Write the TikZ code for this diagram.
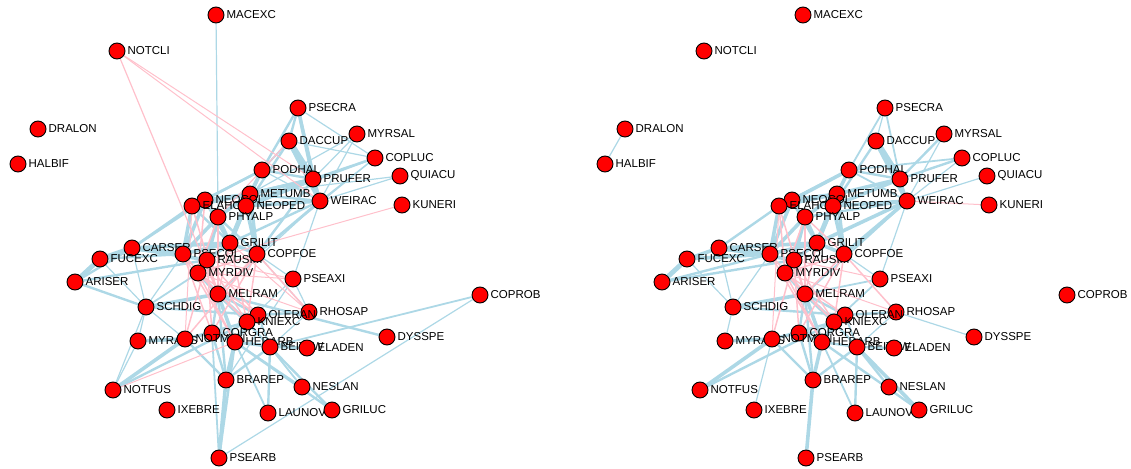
\documentclass[tikz,border=0pt]{standalone}
\usepackage{fontspec}
\setmainfont{Liberation Sans}
\pgfdeclarelayer{bg}
\pgfsetlayers{bg,main}
\definecolor{eblue}{HTML}{ADD8E6}
\definecolor{epink}{HTML}{FFC0CB}
\definecolor{vred}{HTML}{FF0000}
\tikzset{
  vtx/.style={circle,fill=vred,draw=black,line width=0.9pt,minimum size=16pt,inner sep=0pt},
  lbl/.style={font=\fontsize{11.5}{12}\selectfont,inner sep=2pt,text=black},
  bedge/.style={draw=eblue},
  pedge/.style={draw=epink},
}
\begin{document}
\begin{tikzpicture}[x=1pt,y=-1pt]
\useasboundingbox (0,0) rectangle (1131,468);
\foreach \n/\x/\y in {MACEXC/216/15, NOTCLI/117/51, DRALON/38/129, HALBIF/18/164,
  PSECRA/298/108, DACCUP/289/141, MYRSAL/357/134, COPLUC/375/158, QUIACU/400/176,
  PODHAL/262/170, PRUFER/313/179, KUNERI/402/205, WEIRAC/320/201, METUMB/250/194,
  NEOCOL/205/200, ELAHOO/192/206, NEOPED/246/206, PHYALP/218/217, GRILIT/230/243,
  CARSER/132/248, FUCEXC/100/259, ARISER/75/282, PSECOL/183/254, RAUSIM/207/260,
  COPFOE/257/254, MYRDIV/198/273, PSEAXI/293/279, MELRAM/218/294, SCHDIG/146/307,
  RHOSAP/309/312, OLERAN/258/315, KNIEXC/247/322, CORGRA/212/333, MYRAUS/138/341,
  NOTMEN/185/339, HEDARB/235/342, BEITAW/270/347, ELADEN/307/348, DYSSPE/387/337,
  COPROB/480/295, BRAREP/226/380, NOTFUS/113/390, IXEBRE/167/410, NESLAN/302/387,
  LAUNOV/268/413, GRILUC/332/410, PSEARB/219/458}
{
  \node[vtx,label={[lbl]east:\n}] (L\n) at (\x,\y) {};
  \node[vtx,label={[lbl]east:\n}] (R\n) at (\x+587,\y) {};
}
\begin{pgfonlayer}{bg}
% left graph, blue
\foreach \a/\b/\w in {MACEXC/PHYALP/1, PSECRA/DACCUP/2, PSECRA/PRUFER/3, PSECRA/WEIRAC/2,
  PSECRA/PODHAL/2, PSECRA/COPLUC/1, DACCUP/PRUFER/5, DACCUP/WEIRAC/4, DACCUP/COPLUC/1,
  DACCUP/NEOPED/2, DACCUP/PODHAL/1.5, MYRSAL/PRUFER/1, MYRSAL/WEIRAC/1, MYRSAL/METUMB/1,
  COPLUC/PRUFER/2, COPLUC/WEIRAC/1, COPLUC/COPFOE/1, COPLUC/NEOPED/1.5, QUIACU/WEIRAC/1,
  QUIACU/METUMB/1, PODHAL/PRUFER/2, PODHAL/NEOCOL/2, PODHAL/ELAHOO/2, PODHAL/METUMB/3,
  PODHAL/WEIRAC/1, PODHAL/GRILIT/2, PRUFER/METUMB/3, PRUFER/NEOPED/4, PRUFER/ELAHOO/2,
  PRUFER/WEIRAC/2, PRUFER/COPFOE/2, WEIRAC/NEOPED/3, WEIRAC/METUMB/2, WEIRAC/GRILIT/2,
  WEIRAC/COPFOE/2, WEIRAC/MELRAM/1, WEIRAC/PSEAXI/1, METUMB/NEOPED/3, METUMB/NEOCOL/3,
  METUMB/ELAHOO/3, METUMB/PHYALP/3, METUMB/GRILIT/4, METUMB/COPFOE/3, NEOCOL/ELAHOO/2,
  NEOCOL/PHYALP/2, NEOCOL/PSECOL/3, NEOCOL/CARSER/2, NEOCOL/GRILIT/3, NEOPED/GRILIT/3,
  NEOPED/COPFOE/3, ELAHOO/PSECOL/3, ELAHOO/CARSER/2, ELAHOO/GRILIT/2, PHYALP/GRILIT/3,
  PHYALP/PSECOL/3, PHYALP/RAUSIM/3, PHYALP/COPFOE/2, GRILIT/PSECOL/3, GRILIT/RAUSIM/3,
  GRILIT/COPFOE/3, GRILIT/CARSER/3, CARSER/PSECOL/4, CARSER/FUCEXC/4, CARSER/ARISER/2,
  CARSER/SCHDIG/1, CARSER/RAUSIM/3, FUCEXC/ARISER/4, FUCEXC/SCHDIG/1, FUCEXC/PSECOL/2,
  ARISER/SCHDIG/2, ARISER/RAUSIM/2, SCHDIG/MELRAM/3, SCHDIG/PSECOL/1, SCHDIG/NOTFUS/1,
  SCHDIG/MYRAUS/1, SCHDIG/OLERAN/2, SCHDIG/NOTMEN/1, MELRAM/MYRDIV/3, MELRAM/KNIEXC/3,
  MELRAM/OLERAN/2, MELRAM/DYSSPE/2, MELRAM/CORGRA/2, MELRAM/HEDARB/3, MELRAM/BRAREP/2,
  RHOSAP/OLERAN/2, RHOSAP/BEITAW/1, RHOSAP/PSEAXI/1, RHOSAP/COPFOE/1, PSEAXI/COPFOE/1,
  PSEAXI/KNIEXC/1, PSEAXI/BRAREP/1, KNIEXC/HEDARB/2, KNIEXC/BEITAW/2, KNIEXC/NOTMEN/2,
  CORGRA/HEDARB/2, CORGRA/NOTMEN/2, CORGRA/BRAREP/2, CORGRA/PSEARB/1.5, NOTMEN/MYRAUS/3,
  NOTMEN/NOTFUS/3, NOTMEN/BRAREP/2, HEDARB/BRAREP/3, HEDARB/PSEARB/2, HEDARB/LAUNOV/1.5,
  HEDARB/NESLAN/1.5, HEDARB/GRILUC/2, HEDARB/BEITAW/2, BEITAW/ELADEN/2, BEITAW/LAUNOV/2,
  BEITAW/NESLAN/1.5, BEITAW/COPROB/1.5, BEITAW/BRAREP/2, MYRAUS/NOTFUS/1, BRAREP/PSEARB/3,
  COPROB/PSEARB/1, ELADEN/HEDARB/1.5, GRILUC/BEITAW/2, OLERAN/BEITAW/1.5, OLERAN/HEDARB/1.5,
  MYRDIV/SCHDIG/1.5, NOTFUS/KNIEXC/2}
  \draw[bedge,line width=1.2*\w pt] (L\a) -- (L\b);
% left graph, pink
\foreach \a/\b/\w in {NOTCLI/MELRAM/1.2, NOTCLI/WEIRAC/1, NOTCLI/PRUFER/1, KUNERI/RAUSIM/1,
  NOTFUS/HEDARB/1, MELRAM/RAUSIM/2, MELRAM/COPFOE/1.5, MELRAM/PHYALP/2, MYRDIV/COPFOE/1.5,
  MYRDIV/KNIEXC/1.5, MYRDIV/OLERAN/1.5, MYRDIV/HEDARB/1.5, RAUSIM/KNIEXC/1.5, RAUSIM/CORGRA/1.5,
  RAUSIM/OLERAN/1.5, RAUSIM/NOTMEN/1.5, COPFOE/CORGRA/1.5, COPFOE/NOTMEN/1.5, COPFOE/KNIEXC/1.5,
  COPFOE/RHOSAP/1.5, PSECOL/MELRAM/1.5, PSECOL/HEDARB/1.5, PSECOL/CORGRA/1.5, ELAHOO/MELRAM/1.5,
  NEOCOL/MYRDIV/1.5, PHYALP/MYRDIV/1.5, GRILIT/RHOSAP/1, GRILIT/MELRAM/1.5, DACCUP/PHYALP/1,
  PSEAXI/MYRDIV/1, PSEAXI/RAUSIM/1, RHOSAP/MYRDIV/1, ELAHOO/NOTMEN/1, GRILIT/KNIEXC/1.5}
  \draw[pedge,line width=\w pt] (L\a) -- (L\b);
% right graph, blue
\foreach \a/\b/\w in {DRALON/HALBIF/1, PSECRA/PRUFER/1.5, PSECRA/PODHAL/1.5, PSECRA/DACCUP/1,
  DACCUP/PRUFER/5, DACCUP/WEIRAC/4, DACCUP/NEOPED/2, MYRSAL/PRUFER/2, MYRSAL/WEIRAC/1,
  COPLUC/PRUFER/2, COPLUC/PODHAL/1.5, COPLUC/WEIRAC/1, QUIACU/WEIRAC/1, PODHAL/NEOCOL/3,
  PODHAL/METUMB/3, PODHAL/PRUFER/2, PODHAL/ELAHOO/2, PODHAL/WEIRAC/1.5, PRUFER/METUMB/3,
  PRUFER/NEOPED/3, PRUFER/WEIRAC/2, WEIRAC/NEOPED/3, WEIRAC/GRILIT/3, WEIRAC/COPFOE/3,
  WEIRAC/PHYALP/2, WEIRAC/PSEAXI/1, WEIRAC/MELRAM/1.5, METUMB/NEOPED/3, METUMB/NEOCOL/3,
  METUMB/ELAHOO/3, METUMB/PHYALP/3, METUMB/GRILIT/4, METUMB/COPFOE/3, NEOCOL/ELAHOO/2,
  NEOCOL/PSECOL/3, NEOCOL/GRILIT/3, NEOPED/GRILIT/3, NEOPED/COPFOE/3, ELAHOO/PSECOL/3,
  ELAHOO/CARSER/2, PHYALP/GRILIT/3, PHYALP/PSECOL/3, PHYALP/RAUSIM/3, GRILIT/PSECOL/3,
  GRILIT/RAUSIM/3, GRILIT/COPFOE/3, GRILIT/CARSER/3, CARSER/PSECOL/4, CARSER/FUCEXC/3,
  CARSER/SCHDIG/1, CARSER/RAUSIM/3, FUCEXC/ARISER/4, FUCEXC/SCHDIG/1, FUCEXC/PSECOL/3,
  ARISER/RAUSIM/2, SCHDIG/MELRAM/3, SCHDIG/PSECOL/1, SCHDIG/OLERAN/2, MELRAM/MYRDIV/3,
  MELRAM/KNIEXC/3, MELRAM/OLERAN/2, MELRAM/CORGRA/2, MELRAM/HEDARB/3, MELRAM/BRAREP/2,
  MELRAM/PSEAXI/1.5, RHOSAP/OLERAN/2, RHOSAP/DYSSPE/1, RHOSAP/BEITAW/1, PSEAXI/COPFOE/1,
  PSEAXI/KNIEXC/1.5, KNIEXC/HEDARB/2, KNIEXC/BEITAW/2, KNIEXC/NOTMEN/2, CORGRA/HEDARB/2,
  CORGRA/NOTMEN/2, CORGRA/BRAREP/2, NOTMEN/MYRAUS/3, NOTMEN/NOTFUS/3, NOTMEN/BRAREP/2,
  NOTMEN/IXEBRE/1, HEDARB/BRAREP/3, HEDARB/LAUNOV/1.5, HEDARB/GRILUC/2, HEDARB/BEITAW/2,
  BEITAW/ELADEN/2, BEITAW/LAUNOV/2, BEITAW/NESLAN/2, BEITAW/GRILUC/3, BEITAW/BRAREP/2,
  BRAREP/PSEARB/3, OLERAN/BEITAW/1.5, OLERAN/HEDARB/1.5, MYRAUS/SCHDIG/1, NOTFUS/KNIEXC/2,
  ARISER/PSECOL/2}
  \draw[bedge,line width=1.2*\w pt] (R\a) -- (R\b);
% right graph, pink
\foreach \a/\b/\w in {WEIRAC/KUNERI/1, MELRAM/RAUSIM/2, MELRAM/COPFOE/1.5, MELRAM/PHYALP/2,
  MYRDIV/COPFOE/1.5, MYRDIV/KNIEXC/1.5, MYRDIV/OLERAN/1.5, MYRDIV/HEDARB/1.5, RAUSIM/KNIEXC/1.5,
  RAUSIM/CORGRA/1.5, RAUSIM/NOTMEN/1.5, COPFOE/CORGRA/1.5, COPFOE/KNIEXC/1.5, COPFOE/RHOSAP/1.5,
  PSECOL/MELRAM/1.5, PSECOL/HEDARB/1.5, ELAHOO/MELRAM/1.5, ELAHOO/MYRDIV/1.5, PHYALP/MYRDIV/1.5,
  GRILIT/MELRAM/1.5, PSEAXI/RAUSIM/1, RHOSAP/MYRDIV/1, ELAHOO/NOTMEN/1, PHYALP/COPFOE/1.5}
  \draw[pedge,line width=\w pt] (R\a) -- (R\b);
\end{pgfonlayer}
\end{tikzpicture}
\end{document}
